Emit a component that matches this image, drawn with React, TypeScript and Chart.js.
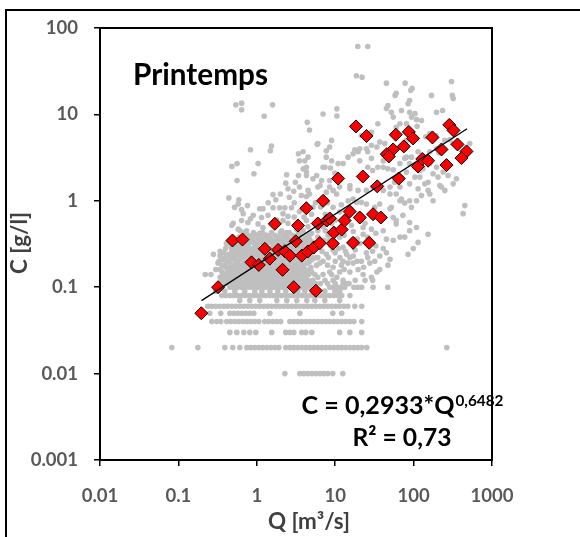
import React, { useEffect, useRef } from "react";
import { Chart, registerables } from "chart.js";
Chart.register(...registerables);

// ---- axis ticks ----
const xTickValues = [0.01, 0.1, 1, 10, 100, 1000];
const xTickLabels = ["0.01", "0.1", "1", "10", "100", "1000"];
const yTickValues = [0.001, 0.01, 0.1, 1, 10, 100];
const yTickLabels = ["0.001", "0.01", "0.1", "1", "10", "100"];

// ---- texts ----
const panelTitle = "Printemps";
const equationMain = "C = 0,2933*Q";
const equationExp = "0,6482";
const r2Text = "R² = 0,73";
const xTitle = "Q [m³/s]";
const yTitle = "C [g/l]";

// ---- spring samples (red diamonds) ----
const springQ = [0.196, 0.321, 0.49, 0.657, 0.856, 1.06, 1.265, 1.466, 1.698, 1.87, 2.13, 2.28, 2.64, 2.96, 3.14, 3.36, 3.75, 4.28, 4.47, 5.33, 5.66, 6.0, 6.36, 7.82, 8.53, 9.32, 9.6, 12.1, 13.2, 15.3, 20.6, 16.9, 27.1, 30.4, 38.2, 7.01, 10.9, 22.5, 34.4, 64.7, 18.4, 25.1, 59.3, 86.9, 98.6, 75.0, 54.8, 45.5, 48.3, 114, 129, 153, 174, 227, 263, 285, 323, 363, 473, 408];
const springC = [0.05, 0.1, 0.347, 0.356, 0.194, 0.181, 0.278, 0.214, 0.541, 0.27, 0.159, 0.261, 0.232, 0.1, 0.34, 0.517, 0.232, 0.821, 0.259, 0.288, 0.091, 0.546, 0.324, 0.591, 0.624, 0.32, 0.429, 0.465, 0.591, 0.751, 0.64, 0.326, 0.326, 0.7, 0.64, 1.0, 1.81, 1.91, 1.47, 1.81, 7.26, 5.63, 5.82, 6.27, 5.27, 4.26, 3.93, 3.47, 3.26, 2.5, 3.05, 2.91, 5.41, 3.93, 2.59, 7.56, 6.53, 4.49, 3.73, 3.12];

// ---- trend line (end points) ----
const trendQ = [0.197, 481];
const trendC = [0.07, 6.83];

// ---- all samples (grey dots): quantised low-concentration rows ----
const greyQ_001 = [2.28, 3.54, 3.98, 4.47, 5.03, 5.66, 6.36, 7.15, 8.05, 9.32, 12.5];
const greyQ_002 = [0.0824, 0.177, 0.391, 0.494, 0.607, 0.746, 0.838, 0.943, 1.06, 1.19, 1.34, 1.51, 1.7, 1.91, 2.34, 2.64, 2.96, 3.33, 3.75, 4.22, 4.74, 5.33, 6.0, 6.75, 7.59, 8.53, 9.6, 10.8, 12.1, 13.6, 15.4, 17.3, 19.4, 21.8, 25.3, 265];
const greyQ_003 = [0.453, 0.556, 0.683, 0.814, 0.971, 1.55, 2.34, 2.64, 2.96, 3.75, 4.22, 5.03, 11.4, 15.4, 21.8];
const greyQ_004 = [0.267, 0.309, 0.347, 0.414, 0.466, 0.524, 0.589, 0.663, 0.746, 0.838, 0.943, 1.06, 1.26, 1.42, 1.6, 1.8, 2.02, 2.64, 2.96, 3.33, 3.75, 4.22, 4.74, 5.33, 6.0, 6.75, 7.59, 8.53, 9.6, 10.8, 12.1, 13.6, 15.4, 17.3, 21.8];
const greyQ_005 = [0.251, 0.347, 0.453, 0.509, 0.572, 0.644, 0.724, 0.814, 0.916, 1.47, 3.54, 9.32, 12.1];
const greyQ_006 = [0.237, 0.267, 0.3, 0.337, 0.379, 0.426, 0.48, 0.54, 0.607, 0.682, 0.768, 0.863, 0.971, 1.09, 1.23, 1.38, 1.55, 1.75, 1.96, 2.21, 2.49, 2.79, 3.14, 3.54, 3.98, 4.47, 5.03, 5.66, 6.36, 7.15, 8.05, 9.05, 10.2, 11.4, 12.9, 14.5, 17.8, 21.8];
const greyQ_007 = [0.607, 0.814, 1.09, 1.8, 2.41, 3.24, 4.34, 5.5, 7.37, 11.4];
const greyQ_008 = [0.358, 0.4, 0.453, 0.509, 0.572, 0.644, 0.724, 0.814, 0.916, 1.03, 1.16, 1.3, 1.47, 1.65, 1.85, 2.08, 2.34, 2.64, 2.96, 3.33, 3.75, 4.22, 4.74, 5.33, 6.0, 6.75, 7.59, 8.53, 9.6, 10.8, 12.1, 15.4];
const greyQ_009 = [0.3, 0.391, 0.524, 0.703, 0.943, 1.16, 1.47, 1.85, 2.34, 3.33, 4.1, 7.37, 9.89, 11.4];
const greyQ_010 = [0.453, 0.509, 0.572, 0.644, 0.724, 0.814, 0.916, 1.03, 1.16, 1.3, 1.47, 1.65, 1.85, 2.08, 2.34, 2.64, 2.96, 3.33, 3.75, 4.22, 4.74, 8.53, 9.6, 10.8, 12.1, 13.2, 17.3, 19.4, 21.8, 30.4, 46.8];

// ---- all samples: dense core (concentration level, discharges) ----
const greyCoreC = [0.11, 0.12, 0.13, 0.14, 0.15, 0.16, 0.17, 0.18, 0.2, 0.22, 0.24, 0.26, 0.28, 0.3, 0.33, 0.36, 0.4];
const greyCoreQ = [
  [0.4, 0.52, 0.68, 0.89, 1.16, 1.5, 1.96, 2.55, 3.33, 4.34, 5.66, 12.6, 15],
  [0.36, 0.48, 0.62, 0.81, 1.06, 1.38, 1.8, 2.34, 3.05],
  [0.34, 0.44, 0.57, 0.74, 0.97, 1.26, 1.65, 2.14, 2.79, 3.5],
  [0.37, 0.48, 0.62, 0.81, 1.06, 1.38, 1.8, 2.34, 3.05],
  [0.42, 0.52, 0.68, 0.89, 1.16, 1.5, 1.96, 2.55, 3.33, 4.34],
  [0.3, 0.44, 0.57, 0.74, 0.97, 1.26, 1.65, 2.14, 2.79, 3.63],
  [0.4, 0.52, 0.68, 0.89, 1.16, 1.5, 1.96, 2.55, 3.33],
  [0.36, 0.48, 0.62, 0.81, 1.06, 1.38, 1.8, 2.34, 3.05, 3.98],
  [0.33, 0.44, 0.57, 0.74, 0.97, 1.26, 1.65, 2.14, 2.79, 3.63, 4.74],
  [0.4, 0.52, 0.68, 0.89, 1.16, 1.5, 1.96, 2.55, 3.33, 4.34, 5.66],
  [0.44, 0.57, 0.74, 0.97, 1.26, 1.65, 2.14, 2.79, 3.63],
  [0.48, 0.62, 0.81, 1.06, 1.38, 1.8, 2.34, 3.05, 3.98, 5.2],
  [0.4, 0.52, 0.68, 0.89, 1.16, 1.5, 1.96, 2.55, 3.33, 4.34],
  [0.57, 0.74, 0.97, 1.26, 1.65, 2.14, 2.79, 3.63, 4.74, 6.2],
  [0.48, 0.62, 0.81, 1.06, 1.38, 1.8, 2.34, 3.05, 3.98, 5.2],
  [0.68, 0.89, 1.16, 1.5, 1.96, 2.55, 3.33, 4.34],
  [0.78, 1.0, 1.3, 1.7, 2.2, 2.9, 3.6, 4.6],
];
// second pass over the same core, dots in between the first ones
const greyCore2C = [0.11, 0.12, 0.13, 0.14, 0.15, 0.16, 0.17, 0.19, 0.21, 0.23, 0.25, 0.27, 0.29, 0.32, 0.35, 0.38, 0.43];
const greyCore2Q = [
  [0.46, 0.6, 0.78, 1.02, 1.33, 1.73, 2.25, 2.9, 3.8, 5.0, 6.5],
  [0.42, 0.55, 0.71, 0.93, 1.21, 1.58, 2.05, 2.67, 3.5, 4.5],
  [0.39, 0.5, 0.65, 0.85, 1.11, 1.45, 1.88, 2.45, 3.2, 4.2, 6.0],
  [0.43, 0.56, 0.72, 0.94, 1.22, 1.6, 2.1, 2.7, 3.5, 4.6],
  [0.36, 0.47, 0.61, 0.79, 1.03, 1.34, 1.75, 2.28, 2.97, 3.9, 5.0],
  [0.34, 0.5, 0.65, 0.85, 1.1, 1.43, 1.87, 2.43, 3.16, 4.1],
  [0.46, 0.6, 0.78, 1.02, 1.33, 1.73, 2.25, 2.9, 3.8, 4.9],
  [0.32, 0.41, 0.54, 0.7, 0.91, 1.18, 1.54, 2.0, 2.6, 3.4, 4.4],
  [0.37, 0.48, 0.62, 0.81, 1.05, 1.37, 1.78, 2.3, 3.0, 3.9, 5.1],
  [0.34, 0.46, 0.6, 0.78, 1.02, 1.33, 1.73, 2.25, 2.9, 3.8, 4.9],
  [0.38, 0.5, 0.65, 0.85, 1.11, 1.45, 1.88, 2.45, 3.2, 4.2],
  [0.55, 0.71, 0.93, 1.21, 1.58, 2.05, 2.67, 3.5, 4.5],
  [0.47, 0.61, 0.79, 1.03, 1.34, 1.75, 2.28, 2.97, 3.9],
  [0.42, 0.55, 0.71, 0.93, 1.21, 1.58, 2.05, 2.67, 3.5, 4.5],
  [0.52, 0.78, 1.02, 1.33, 1.73, 2.25, 2.9, 3.8],
  [0.6, 0.85, 1.11, 1.45, 1.88, 2.45, 3.2, 4.2],
  [0.7, 0.91, 1.18, 1.54, 2.0, 2.6, 3.4],
];

// ---- all samples: scattered points [Q, C] ----
const greyScatter: [number, number][] = [
  [19.4, 61], [26, 61], [18.6, 28], [22, 27], [45, 23], [78, 23], [96, 20], [92, 19], [60, 17.6], [58, 16.6], [89, 14.5], [85, 13.3], [169, 16.6], [304, 24], [312, 16.6], [320, 15.3],
  [0.54, 12.9], [0.64, 13.5], [0.64, 11.3], [1.59, 12.9], [1.24, 9.5], [4.4, 8.1], [7.0, 10.1], [10.5, 11.6], [10.5, 9.6],
  [47, 12.7], [45, 11.7], [52, 10.6], [55, 9.3], [70, 11.1], [89, 10.6], [104, 10.2], [126, 8.5], [94, 9.3], [196, 10.6], [234, 11.1], [109, 8.7], [111, 7.3], [81, 7.8], [67, 7.8], [60, 7.1], [35, 7.8], [29, 6.2], [21.6, 5.7],
  [8.5, 4.2], [9.0, 5.0], [20.6, 4.0], [17.8, 3.9], [26, 3.7], [29, 4.4], [37, 4.8], [43, 4.6], [34, 4.2], [81, 5.0], [107, 5.2], [143, 5.5], [161, 6.0], [192, 5.7], [250, 5.0],
  [114, 3.7], [94, 3.2], [77, 3.1], [161, 3.7], [196, 4.0], [211, 3.6], [320, 4.6], [290, 5.1], [520, 4.6],
  [161, 2.7], [196, 2.45], [132, 2.35], [177, 2.06], [205, 1.88], [238, 2.15], [275, 1.96], [320, 1.57],
  [89, 2.7], [104, 2.45], [120, 2.24], [81, 2.15], [104, 1.88], [139, 1.57], [114, 1.38], [153, 1.32], [126, 1.15], [227, 1.44], [250, 1.32], [352, 1.8], [450, 0.88], [428, 0.71],
  [9.0, 2.9], [10.9, 2.7], [14.6, 3.2], [20.6, 2.9], [26, 2.45], [30, 2.24], [41, 2.45], [47, 2.35], [55, 2.29],
  [8.5, 1.72], [11.4, 1.44], [15.4, 1.38], [19.6, 1.32], [25, 1.32], [30, 1.44], [41, 1.32], [50, 1.44], [57, 1.64], [60, 1.2], [70, 1.05], [77, 0.94], [94, 0.84], [109, 1.0], [161, 1.2],
  [14.6, 1.0], [18.7, 0.96], [25, 0.92], [32, 0.84], [50, 0.81], [67, 1.0],
  [12.6, 0.49], [16.1, 0.52], [22.7, 0.49], [29, 0.47], [41, 0.45], [60, 0.59], [89, 0.56], [109, 0.49], [8.5, 0.35], [11.4, 0.38],
  [4.7, 6.6], [6.0, 4.6], [3.9, 3.7], [3.5, 2.9], [12.6, 2.7], [7.4, 2.45], [16.9, 3.5], [19.6, 3.7], [25, 4.0], [29, 3.1], [41, 2.9], [35, 2.45], [67, 2.7], [81, 3.2],
  [4.3, 1.96], [5.2, 1.8], [6.7, 1.72], [3.5, 1.44], [4.5, 1.32], [6.0, 1.44], [7.7, 1.26], [9.4, 1.32], [15.4, 1.5], [50, 1.2], [67, 1.44], [89, 1.57], [120, 1.88], [153, 1.64], [216, 1.5],
  [37, 0.92], [52, 0.84], [89, 1.0], [16.9, 1.05], [21.6, 0.96], [9.4, 0.84], [11.4, 0.74], [55, 0.64], [73, 0.68], [60, 0.54], [22.7, 0.41],
  [5.2, 0.84], [4.3, 0.59], [3.9, 0.45], [6.0, 0.45], [8.1, 0.4], [4.7, 0.36], [177, 1.0], [89, 0.45],
  [153, 0.41], [114, 0.33], [99, 0.28], [85, 0.24], [67, 0.38], [77, 0.38], [55, 0.35], [47, 0.18], [37, 0.16], [34, 0.15], [29, 0.13], [30, 0.12],
  [20.6, 0.32], [25, 0.25], [37, 0.23], [32, 0.2], [41, 0.28], [12.6, 0.2], [15.4, 0.22], [16.9, 0.19], [21.6, 0.2], [27.6, 0.19], [9.4, 0.17], [11.4, 0.15], [15.4, 0.15], [19.6, 0.16], [22.7, 0.14], [6.4, 0.19], [7.7, 0.24], [9.4, 0.27], [12.6, 0.29], [3.9, 0.14], [4.7, 0.16], [5.5, 0.14], [7.0, 0.14], [8.5, 0.15], [3.9, 0.12], [5.2, 0.12], [7.4, 0.12], [9.4, 0.12], [12.6, 0.12],
  [1.54, 4.3], [1.49, 3.8], [0.83, 3.9], [3.4, 3.5], [0.56, 2.7], [0.48, 2.5], [1.04, 2.7], [4.1, 2.9], [4.3, 2.45], [2.4, 2.0], [3.4, 1.96], [0.92, 2.06], [4.3, 2.15], [0.56, 1.72], [3.1, 1.64], [2.5, 1.38], [0.44, 1.08], [0.59, 1.03], [1.61, 1.18], [1.75, 1.03], [3.7, 1.15], [4.3, 1.12], [0.58, 0.92], [0.64, 0.79], [0.76, 0.88], [1.09, 0.81], [1.2, 0.81], [1.61, 0.83], [1.96, 0.83], [2.28, 0.83], [2.77, 0.83], [0.9, 0.68], [1.15, 0.64], [1.39, 0.68], [0.64, 0.59], [0.77, 0.56], [0.48, 0.52], [2.16, 0.71], [2.5, 0.66], [1.04, 0.54], [1.2, 0.49], [0.61, 0.45], [0.74, 0.45], [0.9, 0.41], [1.09, 0.42], [1.33, 0.4], [2.07, 0.45], [2.4, 0.43], [3.2, 0.47],
  [4.5, 3.2], [5.9, 4.5], [7.7, 3.8], [7.7, 3.2], [3.9, 2.35], [5.8, 1.96], [7.0, 2.45], [8.7, 2.4], [9.9, 2.1], [2.34, 1.6], [2.96, 1.29], [0.52, 0.84], [4.7, 1.2], [6.4, 1.5], [8.5, 1.44], [10.4, 1.2], [0.67, 0.71], [0.83, 0.62], [2.16, 0.59], [0.5, 0.55], [0.58, 0.47],
  [0.28, 0.24], [0.34, 0.26], [0.22, 0.14], [0.26, 0.14], [0.41, 0.32],
  [2.0, 1.2], [2.6, 1.1], [3.0, 0.95], [3.5, 0.75], [4.0, 0.65], [5.0, 0.7], [5.6, 0.95], [6.5, 0.85], [7.5, 0.7], [8.0, 0.95], [9.0, 0.55], [10, 0.6], [1.4, 0.95], [1.8, 0.6], [2.5, 0.55], [3.0, 0.65], [4.5, 0.5], [5.5, 0.55], [7.0, 0.5], [12, 0.9], [14, 0.65], [16, 0.8], [20, 0.7], [24, 0.55],
  [5.5, 0.33], [6.5, 0.3], [7.2, 0.35], [8.8, 0.3], [10, 0.25], [11, 0.28], [13.5, 0.26], [6, 0.22], [7, 0.2], [8, 0.18], [10, 0.2], [12, 0.18], [14, 0.24], [18, 0.27],
  [4.5, 0.22], [5, 0.26], [5.8, 0.18], [6.8, 0.26], [8.2, 0.22], [9, 0.14], [10.5, 0.13], [11.5, 0.22], [13, 0.16], [14.5, 0.19], [17, 0.23], [19, 0.2], [23, 0.17], [26, 0.22], [30, 0.26], [33, 0.3], [45, 0.25], [50, 0.21],
  [8, 0.11], [10, 0.11], [14, 0.11], [18, 0.12], [24, 0.12], [6, 0.38], [9, 0.42], [13, 0.4], [17, 0.44], [19, 0.36], [26, 0.38], [33, 0.42], [45, 0.36], [5, 0.42], [7.5, 0.45],
];

const FAMILY = 'Lato, "Open Sans", "DejaVu Sans", sans-serif';

export default function App() {
  const ref = useRef<HTMLCanvasElement>(null);

  useEffect(() => {
    document.body.style.margin = "0";
    const canvas = ref.current;
    if (!canvas) return;
    const mctx = canvas.getContext("2d")!;
    const fit = (text: string, target: number) => {
      mctx.font = `bold 100px ${FAMILY}`;
      return (100 * target) / mctx.measureText(text).width;
    };
    const tickSize = fit("1000", 43);
    const titleSize = fit(panelTitle, 135);
    const eqSize = fit(equationMain, 153);
    const expSize = fit(equationExp, 48);
    const r2Size = fit(r2Text, 99);
    const axisTitleSize = fit(xTitle, 82);

    const rowPts = (c: number, qs: number[]) => qs.map((q) => ({ x: q, y: c }));
    const greyPoints = [
      ...rowPts(0.01, greyQ_001),
      ...rowPts(0.02, greyQ_002),
      ...rowPts(0.03, greyQ_003),
      ...rowPts(0.04, greyQ_004),
      ...rowPts(0.05, greyQ_005),
      ...rowPts(0.06, greyQ_006),
      ...rowPts(0.07, greyQ_007),
      ...rowPts(0.08, greyQ_008),
      ...rowPts(0.09, greyQ_009),
      ...rowPts(0.1, greyQ_010),
      ...greyCoreC.flatMap((c, i) => rowPts(c, greyCoreQ[i])),
      ...greyCore2C.flatMap((c, i) => rowPts(c, greyCore2Q[i])),
      ...greyScatter.map(([q, c]) => ({ x: q, y: c })),
    ];
    const springPoints = springQ.map((q, i) => ({ x: q, y: springC[i] }));
    const trendPoints = trendQ.map((q, i) => ({ x: q, y: trendC[i] }));

    const decor = {
      id: "decor",
      afterDraw(chart: any) {
        const { ctx, chartArea: a } = chart;
        ctx.save();
        ctx.strokeStyle = "#000";
        ctx.lineWidth = 2;
        ctx.strokeRect(a.left, a.top, a.right - a.left, a.bottom - a.top);
        // outer cell border
        ctx.beginPath();
        ctx.moveTo(5, 10);
        ctx.lineTo(580, 10);
        ctx.moveTo(6, 10);
        ctx.lineTo(6, 537);
        ctx.stroke();

        ctx.fillStyle = "#000";
        ctx.textBaseline = "alphabetic";
        ctx.textAlign = "left";
        ctx.font = `bold ${titleSize}px ${FAMILY}`;
        ctx.fillText(panelTitle, 133, 85);

        // equation
        ctx.font = `bold ${eqSize}px ${FAMILY}`;
        const wMain = ctx.measureText(equationMain).width;
        ctx.font = `bold ${expSize}px ${FAMILY}`;
        const wExp = ctx.measureText(equationExp).width;
        const x0 = 402 - (wMain + wExp) / 2;
        ctx.font = `bold ${eqSize}px ${FAMILY}`;
        ctx.fillText(equationMain, x0, 414);
        ctx.font = `bold ${expSize}px ${FAMILY}`;
        ctx.fillText(equationExp, x0 + wMain + 1, 406);

        ctx.textAlign = "center";
        ctx.font = `bold ${r2Size}px ${FAMILY}`;
        ctx.fillText(r2Text, 402, 446);

        // axis titles
        ctx.fillStyle = "#404040";
        ctx.textBaseline = "middle";
        ctx.font = `bold ${axisTitleSize}px ${FAMILY}`;
        ctx.fillText(xTitle, 309, 522);
        ctx.translate(20, 243);
        ctx.rotate(-Math.PI / 2);
        ctx.fillText(yTitle, 0, 0);
        ctx.restore();
      },
    };

    const tickFont = { family: FAMILY, size: tickSize, weight: "bold" as const };

    const chart = new Chart(canvas, {
      type: "scatter",
      data: {
        datasets: [
          {
            label: "trend",
            data: trendPoints,
            showLine: true,
            borderColor: "#000",
            borderWidth: 1.3,
            pointRadius: 0,
            order: 1,
          },
          {
            label: "Printemps",
            data: springPoints,
            pointStyle: "rectRot",
            pointRadius: 6.5,
            backgroundColor: "#ff0000",
            borderColor: "#000",
            borderWidth: 1,
            order: 2,
          },
          {
            label: "all",
            data: greyPoints,
            pointRadius: 2.8,
            backgroundColor: "#bfbfbf",
            borderWidth: 0,
            order: 3,
          },
        ],
      },
      options: {
        responsive: false,
        animation: false,
        events: [],
        layout: { padding: { left: 0, right: 88, top: 28, bottom: 0 } },
        plugins: { legend: { display: false }, tooltip: { enabled: false } },
        scales: {
          x: {
            type: "logarithmic",
            min: 0.01,
            max: 1000,
            afterBuildTicks: (s: any) => {
              s.ticks = xTickValues.map((v) => ({ value: v, major: true }));
            },
            afterFit: (s: any) => {
              s.height = 77;
            },
            ticks: {
              callback: (_v: any, i: number) => xTickLabels[i],
              font: tickFont,
              color: "#595959",
              padding: 19,
              maxRotation: 0,
              autoSkip: false,
            },
            grid: { drawOnChartArea: false, drawTicks: true, tickLength: 6, color: "#000", lineWidth: 1.5 },
            border: { display: true, color: "#000", width: 2 },
          },
          y: {
            type: "logarithmic",
            min: 0.001,
            max: 100,
            afterBuildTicks: (s: any) => {
              s.ticks = yTickValues.map((v) => ({ value: v, major: true }));
            },
            afterFit: (s: any) => {
              s.width = 100;
            },
            ticks: {
              callback: (_v: any, i: number) => yTickLabels[i],
              font: tickFont,
              color: "#595959",
              padding: 16,
              autoSkip: false,
            },
            grid: { drawOnChartArea: false, drawTicks: true, tickLength: 6, color: "#000", lineWidth: 1.5 },
            border: { display: true, color: "#000", width: 2 },
          },
        },
      },
      plugins: [decor],
    });
    return () => chart.destroy();
  }, []);

  return (
    <div style={{ width: 580, height: 537, position: "relative" }}>
      <canvas ref={ref} width={580} height={537} style={{ display: "block" }} />
    </div>
  );
}
